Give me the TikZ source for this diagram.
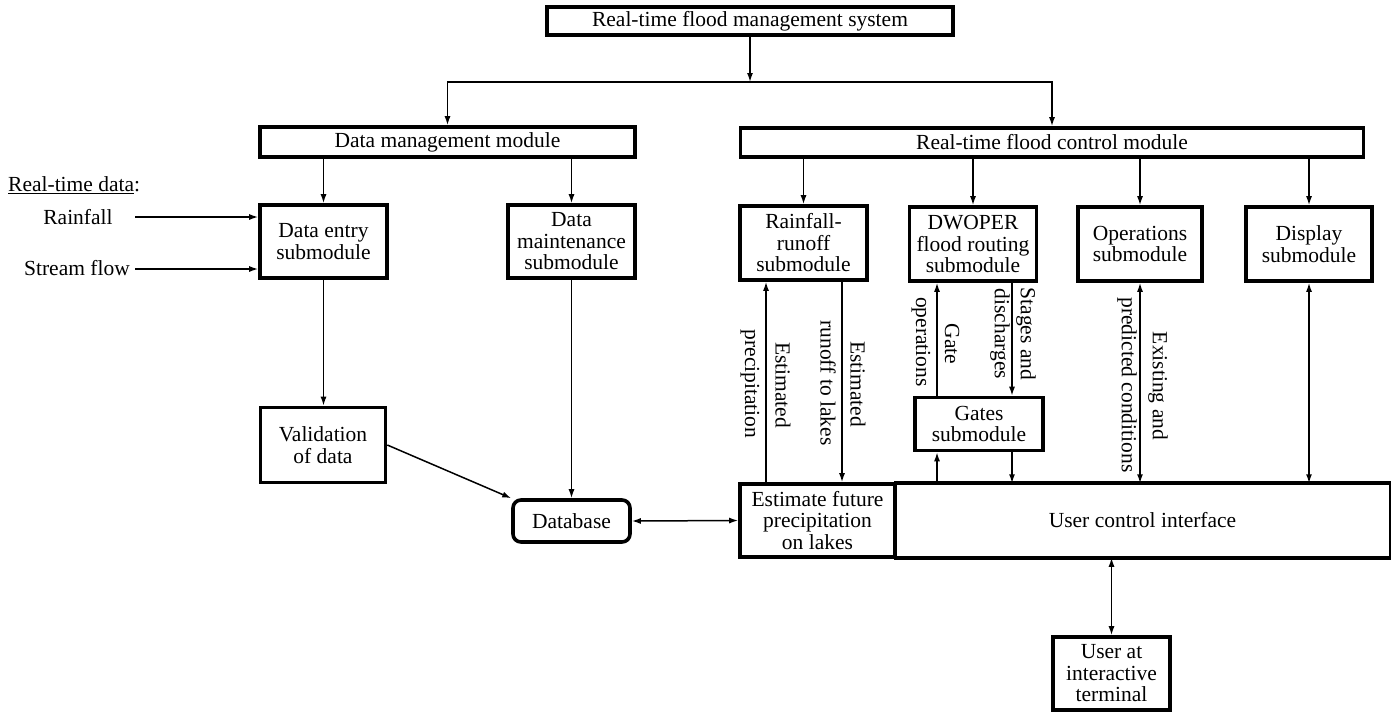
\documentclass[tikz,border=0pt]{standalone}
\usepackage{fontspec}
\setmainfont{Liberation Serif}
\usetikzlibrary{arrows.meta}
\begin{document}
\begin{tikzpicture}[x=1pt,y=-1pt,
  every node/.style={font=\fontsize{21.5}{21.5}\selectfont, inner sep=0pt, align=center},
  bx/.style 2 args={draw, line width=3.6pt, minimum width=#1, minimum height=#2},
  arr/.style={line width=1.5pt, -{Latex[length=9pt,width=6pt]}},
  darr/.style={line width=1.5pt, {Latex[length=9pt,width=6pt]}-{Latex[length=9pt,width=6pt]}},
  lbl/.style={rotate=-90}]
\useasboundingbox (0,0) rectangle (1391,713);
% boxes
\node[bx={406}{28}] (sys) at (750,21) {Real-time flood management system};
\node[bx={375}{30}] (dm) at (447.5,142) {Data management module};
\node[bx={623}{29}] (fc) at (1052,142.5) {Real-time flood control module};
\node[bx={127}{73}] (de) at (323.5,241.5) {Data entry\\submodule};
\node[bx={127}{73}] (dmt) at (571.5,241.5) {Data\\maintenance\\submodule};
\node[bx={127}{74}] (rr) at (803.5,243) {Rainfall-\\runoff\\submodule};
\node[bx={127}{74}] (dw) at (973,244) {DWOPER\\flood routing\\submodule};
\node[bx={124}{74}] (op) at (1140,244) {Operations\\submodule};
\node[bx={126}{74}] (disp) at (1309,244) {Display\\submodule};
\node[bx={125}{75}] (val) at (323,445) {Validation\\of data};
\node[bx={117}{42}, rounded corners=8pt] (db) at (571.5,521) {Database};
\node[bx={128}{53}] (gt) at (979,424) {Gates\\submodule};
\node[draw, line width=1.5pt, minimum width=495, minimum height=73] (uci) at (1142.5,520.5) {User control interface};
\draw[line width=3.6pt] (uci.north west) -- (uci.north east);
\draw[line width=3.6pt] (uci.south west) -- (uci.south east);
\node[bx={155}{73}] (est) at (817.5,520.5) {Estimate future\\precipitation\\on lakes};
\node[bx={117}{73}] (usr) at (1111.5,673.5) {User at\\interactive\\terminal};
% left labels
\node[anchor=west] (rtd) at (8,185) {\underline{Real-time data}:};
\node (rain) at (78,217) {Rainfall};
\node (sf) at (77,268) {Stream flow};
\coordinate (rs) at (135,217);
\coordinate (ss) at (135,269);
% helper coordinates
\coordinate (split) at (750,82);
\coordinate (xa) at (766,0);
\coordinate (xb) at (842,0);
\coordinate (xc) at (937,0);
\coordinate (xd) at (1012,0);
% connectors
\draw[arr] (sys.south) -- (split);
\draw[arr] (split) -| (dm.north);
\draw[arr] (split) -| (fc.north);
\draw[arr] (dm.south -| de.north) -- (de.north);
\draw[arr] (dm.south -| dmt.north) -- (dmt.north);
\draw[arr] (fc.south -| rr.north) -- (rr.north);
\draw[arr] (fc.south -| dw.north) -- (dw.north);
\draw[arr] (fc.south -| op.north) -- (op.north);
\draw[arr] (fc.south -| disp.north) -- (disp.north);
\draw[arr] (rs) -- (rs -| de.west);
\draw[arr] (ss) -- (ss -| de.west);
\draw[arr] (de.south) -- (de.south |- val.north);
\draw[arr] (dmt.south) -- (dmt.south |- db.north);
\draw[arr] (val.east) -- (db.north west);
\draw[darr] (db.east) -- (est.west);
\draw[arr] (est.north -| xa) -- (rr.south -| xa);
\draw[arr] (rr.south -| xb) -- (est.north -| xb);
\draw[arr] (gt.north -| xc) -- (dw.south -| xc);
\draw[arr] (dw.south -| xd) -- (gt.north -| xd);
\draw[arr] (uci.north -| xc) -- (gt.south -| xc);
\draw[arr] (gt.south -| xd) -- (uci.north -| xd);
\draw[darr] (op.south) -- (op.south |- uci.north);
\draw[darr] (disp.south) -- (disp.south |- uci.north);
\draw[darr] (uci.south -| usr.north) -- (usr.north);
% rotated labels
\node[lbl] (l1) at (750,384) {precipitation};
\node[lbl] (l2) at (783,385) {Estimated};
\node[lbl] (l3) at (828,383) {runoff to lakes};
\node[lbl] (l4) at (858,384) {Estimated};
\node[lbl] (l5) at (921,342) {operations};
\node[lbl] (l6) at (952,344) {Gate};
\node[lbl] (l7) at (1000,334) {discharges};
\node[lbl] (l8) at (1026,334) {Stages and};
\node[lbl] (l9) at (1127,385) {predicted conditions};
\node[lbl] (l10) at (1158,386) {Existing and};
\end{tikzpicture}
\end{document}
